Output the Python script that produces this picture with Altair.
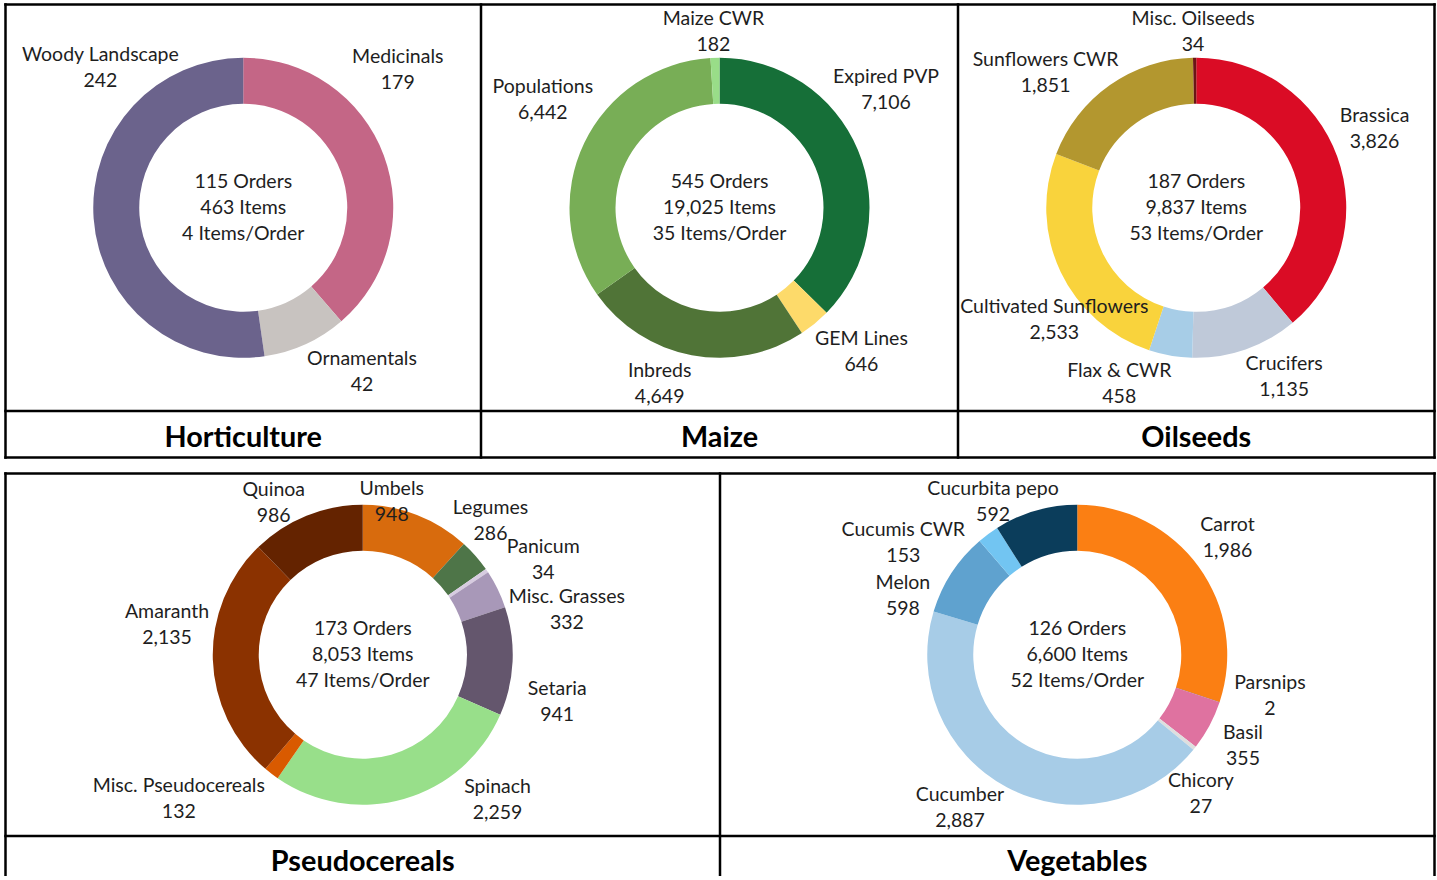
import math

import altair as alt
import pandas as pd

# ---------------- data ----------------
hort_names = ["Medicinals", "Ornamentals", "Woody Landscape"]
hort_items = [179, 42, 242]
hort_colors = ["#C46686", "#C8C3C0", "#6B638C"]
hort_orders = 115

maize_names = ["Expired PVP", "GEM Lines", "Inbreds", "Populations", "Maize CWR"]
maize_items = [7106, 646, 4649, 6442, 182]
maize_colors = ["#166F38", "#FDDA6A", "#507437", "#78AE56", "#99DD88"]
maize_orders = 545

oil_names = ["Brassica", "Crucifers", "Flax & CWR", "Cultivated Sunflowers",
             "Sunflowers CWR", "Misc. Oilseeds"]
oil_items = [3826, 1135, 458, 2533, 1851, 34]
oil_colors = ["#DA0C25", "#BFC9D9", "#A7CDE7", "#F9D33C", "#B3972F", "#6B1515"]
oil_orders = 187

pseudo_names = ["Umbels", "Legumes", "Panicum", "Misc. Grasses", "Setaria",
                "Spinach", "Misc. Pseudocereals", "Amaranth", "Quinoa"]
pseudo_items = [948, 286, 34, 332, 941, 2259, 132, 2135, 986]
pseudo_colors = ["#D86B0D", "#4E7548", "#D7CCE0", "#A898B8", "#64566D",
                 "#98DF8A", "#D95A00", "#8B3200", "#642300"]
pseudo_orders = 173

veg_names = ["Carrot", "Parsnips", "Basil", "Chicory", "Cucumber", "Melon",
             "Cucumis CWR", "Cucurbita pepo"]
veg_items = [1986, 2, 355, 27, 2887, 598, 153, 592]
veg_colors = ["#FB7F13", "#5A2B10", "#DF72A0", "#DEDEDE", "#A7CCE7", "#5FA2CF",
              "#72C5F2", "#0B3D5B"]
veg_orders = 126

# ---------------- label placement (angle shift from slice middle, radius) ----------------
hort_shift, hort_rad = [-21.3, -11.3, 48.5], [207, 203, 200]
maize_shift, maize_rad = [-12.5, -5.2, 8.1, 5.8, -0.25], [204, 202, 186, 207, 176]
oil_shift, oil_rad = [-3.9, -8.2, 13.7, -13.0, -13.1, -0.4], [195, 191, 192, 181, 202, 176]
pseudo_shift = [-10.4, -5.1, 6.3, 13.5, 11.0, -27.0, 14.3, 10.5, -8.35]
pseudo_rad = [155, 185, 204, 209, 200, 198, 234, 198, 176]
veg_shift = [-1.9, -6.4, 0.6, 9.8, 9.4, -14.4, -20.7, -12.8]
veg_rad = [190, 197, 189, 186, 193, 184, 207, 174]

# ---------------- page layout ----------------
W, H = 1436, 876
top_x = [5.5, 481, 958, 1434.5]      # column edges, top row
top_y = [4.5, 411, 457.5]            # donut cell / title cell edges
bot_x = [5.5, 720, 1434.5]
bot_y = [473.5, 836, H]

FONT = "Lato"
TEXT = "#1E1E1E"
LABEL_SIZE = 19.5
LINE_H = 26
TITLE_SIZE = 28.8
BORDER = 2.5


def donut(names, items, colors, orders, shifts, radii, cx, cy):
    total = sum(items)
    rows, start = [], 0
    for i, (n, v, s, r) in enumerate(zip(names, items, shifts, radii)):
        mid = (start + v / 2) / total * 360
        start += v
        rows.append({"idx": i, "name": n, "items": v,
                     "label": f"{n}\n{v:,}",
                     "lt": math.radians(mid + s), "lr": r})
    base = alt.Chart(pd.DataFrame(rows))
    arcs = base.mark_arc(innerRadius=104, outerRadius=150).encode(
        theta=alt.Theta("items:Q", stack=True),
        order=alt.Order("idx:Q", sort="ascending"),
        color=alt.Color("name:N", scale=alt.Scale(domain=names, range=colors),
                        legend=None),
        x=alt.value(cx), y=alt.value(cy),
    )
    # two-line labels, block centred on the anchor point
    labels = base.mark_text(font=FONT, fontSize=LABEL_SIZE, lineHeight=LINE_H,
                            lineBreak="\n", color=TEXT, align="center",
                            baseline="middle", dy=-LINE_H / 2).encode(
        theta=alt.Theta("lt:Q", scale=None, stack=False),
        radius=alt.Radius("lr:Q", scale=None),
        text="label:N",
        x=alt.value(cx), y=alt.value(cy),
    )
    summary = (f"{orders} Orders\n{total:,} Items\n"
               f"{round(total / orders)} Items/Order")
    center = alt.Chart(pd.DataFrame({"t": [summary]})).mark_text(
        font=FONT, fontSize=LABEL_SIZE, lineHeight=LINE_H, lineBreak="\n",
        color=TEXT, align="center", baseline="middle", dy=-LINE_H).encode(
        text="t:N", x=alt.value(cx), y=alt.value(cy))
    return [arcs, labels, center]


def title(text, cx, ty):
    return alt.Chart(pd.DataFrame({"t": [text]})).mark_text(
        font=FONT, fontSize=TITLE_SIZE, fontWeight="bold", color="black",
        align="center", baseline="middle").encode(
        text="t:N", x=alt.value(cx), y=alt.value(ty))


def mid(a, b):
    return (a + b) / 2


# frame lines around the cells
segs = []
for y in top_y:
    segs.append({"x": top_x[0], "y": y, "x2": top_x[-1], "y2": y})
for x in top_x:
    segs.append({"x": x, "y": top_y[0], "x2": x, "y2": top_y[-1]})
for y in bot_y[:2]:
    segs.append({"x": bot_x[0], "y": y, "x2": bot_x[-1], "y2": y})
for x in bot_x:
    segs.append({"x": x, "y": bot_y[0], "x2": x, "y2": bot_y[-1]})
frame = alt.Chart(pd.DataFrame(segs)).mark_rule(
    color="black", strokeWidth=BORDER, strokeCap="square").encode(
    x=alt.X("x:Q", scale=None), y=alt.Y("y:Q", scale=None),
    x2="x2:Q", y2="y2:Q")

top_cy = mid(top_y[0], top_y[1])
bot_cy = mid(bot_y[0], bot_y[1])
top_ty = mid(top_y[1], top_y[2]) + 4
bot_ty = bot_y[1] + 26

layers = []
layers += donut(hort_names, hort_items, hort_colors, hort_orders,
                hort_shift, hort_rad, mid(top_x[0], top_x[1]), top_cy)
layers += donut(maize_names, maize_items, maize_colors, maize_orders,
                maize_shift, maize_rad, mid(top_x[1], top_x[2]), top_cy)
layers += donut(oil_names, oil_items, oil_colors, oil_orders,
                oil_shift, oil_rad, mid(top_x[2], top_x[3]), top_cy)
layers += donut(pseudo_names, pseudo_items, pseudo_colors, pseudo_orders,
                pseudo_shift, pseudo_rad, mid(bot_x[0], bot_x[1]), bot_cy)
layers += donut(veg_names, veg_items, veg_colors, veg_orders,
                veg_shift, veg_rad, mid(bot_x[1], bot_x[2]), bot_cy)
layers += [
    title("Horticulture", mid(top_x[0], top_x[1]), top_ty),
    title("Maize", mid(top_x[1], top_x[2]), top_ty),
    title("Oilseeds", mid(top_x[2], top_x[3]), top_ty),
    title("Pseudocereals", mid(bot_x[0], bot_x[1]), bot_ty),
    title("Vegetables", mid(bot_x[1], bot_x[2]), bot_ty),
    frame,
]

chart = alt.layer(*layers).resolve_scale(
    color="independent", theta="independent"
).properties(
    width=W, height=H, padding=0,
    autosize=alt.AutoSizeParams(type="none"),
    background="white",
).configure_view(strokeOpacity=0)

chart.save("out.html", embed_options={"renderer": "svg", "actions": False})
